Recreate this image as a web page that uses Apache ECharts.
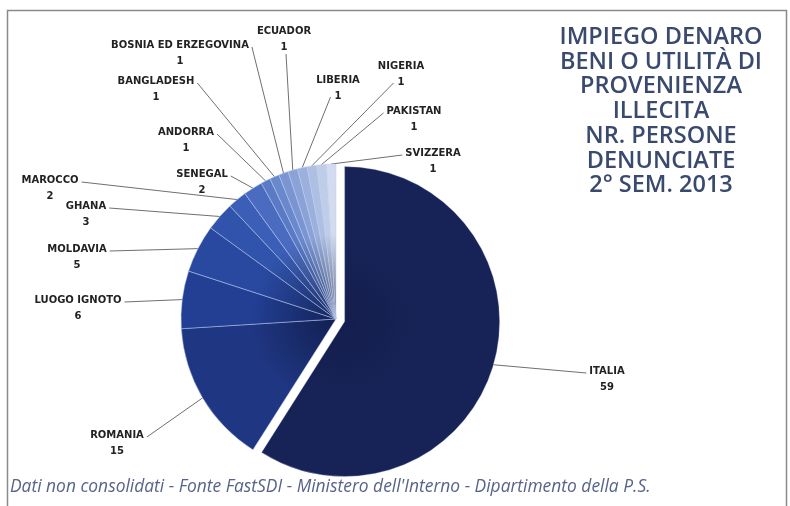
<!DOCTYPE html>
<html>
<head>
<meta charset="utf-8">
<script src="https://cdn.jsdelivr.net/npm/echarts@6/dist/echarts.min.js"></script>
<style>
  html, body { margin: 0; padding: 0; background: #ffffff; }
  #chart { width: 790px; height: 506px; }
</style>
</head>
<body>
<div id="chart"></div>
<script>
// ---- data ----
const countries = ['ITALIA', 'ROMANIA', 'LUOGO IGNOTO', 'MOLDAVIA', 'GHANA', 'MAROCCO', 'SENEGAL',
  'ANDORRA', 'BANGLADESH', 'BOSNIA ED ERZEGOVINA', 'ECUADOR', 'LIBERIA', 'NIGERIA', 'PAKISTAN', 'SVIZZERA'];
const persons = [59, 15, 6, 5, 3, 2, 2, 1, 1, 1, 1, 1, 1, 1, 1];
const titleLines = ['IMPIEGO DENARO', 'BENI O UTILITÀ DI', 'PROVENIENZA', 'ILLECITA', 'NR. PERSONE', 'DENUNCIATE', '2° SEM. 2013'];
const footnote = "Dati non consolidati - Fonte FastSDI - Ministero dell'Interno - Dipartimento della P.S.";

// ---- styling / layout (not data) ----
const sliceColors = ['#172357', '#1f3682', '#223f94', '#2949a1', '#3053ac', '#3b5eb6', '#4a6bbf',
  '#5a7ac5', '#6a88cc', '#7a95d2', '#8aa2d6', '#9bb0dc', '#adbfe2', '#bfcde8', '#d2dcee'];
// label centre x, name centre y
const labelPos = [[607, 371], [117, 435], [78, 300], [77, 249], [86, 206], [50, 180], [202, 174],
  [186, 132], [156, 81], [180, 45], [284, 31], [338, 80], [401, 66], [414, 111], [433, 153]];
// where the leader line meets the label: R = right of name, L = left of name, VL = left of value, B = below value
const labelAttach = ['L', 'R', 'R', 'R', 'R', 'R', 'R', 'R', 'R', 'R', 'B', 'VL', 'VL', 'L', 'L'];
const explodedIndex = 0;

const CX = 336, CY = 319, R = 155, OFFSET = 9;
const FONT_FAMILY = 'DejaVu Sans', FONT_SIZE = 10, LINE_H = 16;

const measureCtx = document.createElement('canvas').getContext('2d');
function textW(t) { measureCtx.font = 'bold ' + FONT_SIZE + 'px "' + FONT_FAMILY + '"'; return measureCtx.measureText(t).width; }

const total = persons.reduce((a, b) => a + b, 0);
const midAngles = [];
(function () {
  let cum = 0;
  persons.forEach(v => { midAngles.push((cum + v / 2) / total * 2 * Math.PI); cum += v; });
})();
const exDx = OFFSET * Math.sin(midAngles[explodedIndex]);
const exDy = -OFFSET * Math.cos(midAngles[explodedIndex]);

function shade(hex, f) {
  const n = parseInt(hex.slice(1), 16);
  let r = (n >> 16) & 255, g = (n >> 8) & 255, b = n & 255;
  const tr = 8, tg = 12, tb = 40;
  r = Math.round(r + (tr - r) * f); g = Math.round(g + (tg - g) * f); b = Math.round(b + (tb - b) * f);
  return 'rgb(' + r + ',' + g + ',' + b + ')';
}
function sliceFill(i, cx, cy) {
  return {
    type: 'radial', x: cx, y: cy, r: R, global: true,
    colorStops: [
      { offset: 0, color: shade(sliceColors[i], i === explodedIndex ? 0.2 : 0.55) },
      { offset: 0.55, color: sliceColors[i] },
      { offset: 1, color: sliceColors[i] }
    ]
  };
}

const chart = echarts.init(document.getElementById('chart'), null, { renderer: 'canvas' });

// main pie: every slice except the exploded one is drawn here; all labels live here
const mainData = countries.map((c, i) => ({
  name: c,
  value: persons[i],
  itemStyle: i === explodedIndex
    ? { color: 'rgba(0,0,0,0)', borderWidth: 0 }
    : { color: sliceFill(i, CX, CY) }
}));
// exploded slice: same scale, only that slice visible, centre moved along its mid angle
const explodedData = countries.map((c, i) => ({
  name: c,
  value: persons[i],
  itemStyle: i === explodedIndex
    ? { color: sliceFill(i, CX + exDx, CY + exDy) }
    : { color: 'rgba(0,0,0,0)', borderWidth: 0 }
}));

const tokenStyle = { fontFamily: FONT_FAMILY, fontWeight: 'bold', fontSize: FONT_SIZE, color: '#222', lineHeight: LINE_H };

chart.setOption({
  animation: false,
  backgroundColor: '#ffffff',
  title: {
    text: titleLines.join('\n'),
    left: 656,
    top: 20,
    textAlign: 'center',
    textStyle: {
      fontFamily: 'Open Sans',
      fontWeight: 600,
      fontSize: 23.5,
      lineHeight: 24.7,
      color: '#394a6e'
    }
  },
  graphic: [
    {
      type: 'rect',
      shape: { x: 7.5, y: 10.5, width: 779, height: 520 },
      style: { fill: 'none', stroke: '#8a8a8a', lineWidth: 1.5 },
      silent: true
    },
    {
      type: 'text',
      left: 10,
      top: 479,
      style: {
        text: footnote,
        font: 'italic 17.4px "Open Sans"',
        fill: '#57638a'
      },
      silent: true
    }
  ],
  series: [
    {
      type: 'pie',
      center: [CX + exDx, CY + exDy],
      radius: [0, R],
      startAngle: 90,
      clockwise: true,
      silent: true,
      z: 1,
      itemStyle: { borderColor: 'rgba(190,205,240,0.4)', borderWidth: 0.8 },
      data: explodedData,
      label: { show: false },
      labelLine: { show: false },
      emphasis: { disabled: true }
    },
    {
      type: 'pie',
      center: [CX, CY],
      radius: [0, R],
      startAngle: 90,
      clockwise: true,
      silent: true,
      z: 2,
      avoidLabelOverlap: false,
      itemStyle: { borderColor: 'rgba(190,205,240,0.6)', borderWidth: 0.8 },
      data: mainData,
      label: {
        show: true,
        position: 'outside',
        overflow: 'none',
        formatter: '{n|{b}}\n{v|{c}}',
        fontFamily: FONT_FAMILY,
        fontWeight: 'bold',
        fontSize: FONT_SIZE,
        color: '#222',
        rich: { n: tokenStyle, v: tokenStyle }
      },
      labelLine: {
        show: true,
        lineStyle: { color: '#707070', width: 1 }
      },
      labelLayout: function (p) {
        const i = p.dataIndex;
        const pos = labelPos[i];
        const a = midAngles[i];
        const sx = CX + R * Math.sin(a) + (i === explodedIndex ? exDx : 0);
        const sy = CY - R * Math.cos(a) + (i === explodedIndex ? exDy : 0);
        const nameW = textW(countries[i]);
        const valW = textW(String(persons[i]));
        let ax, ay;
        switch (labelAttach[i]) {
          case 'R': ax = pos[0] + nameW / 2 + 3; ay = pos[1] + 2; break;
          case 'L': ax = pos[0] - nameW / 2 - 3; ay = pos[1] + 2; break;
          case 'VL': ax = pos[0] - valW / 2 - 4; ay = pos[1] + LINE_H + 1; break;
          default: ax = pos[0] + 2; ay = pos[1] + LINE_H + 7;
        }
        return {
          x: pos[0], y: pos[1] - LINE_H / 2, align: 'center', verticalAlign: 'top',
          labelLinePoints: [[sx, sy], [ax, ay], [ax, ay]]
        };
      },
      emphasis: { disabled: true }
    }
  ]
});
</script>
</body>
</html>
